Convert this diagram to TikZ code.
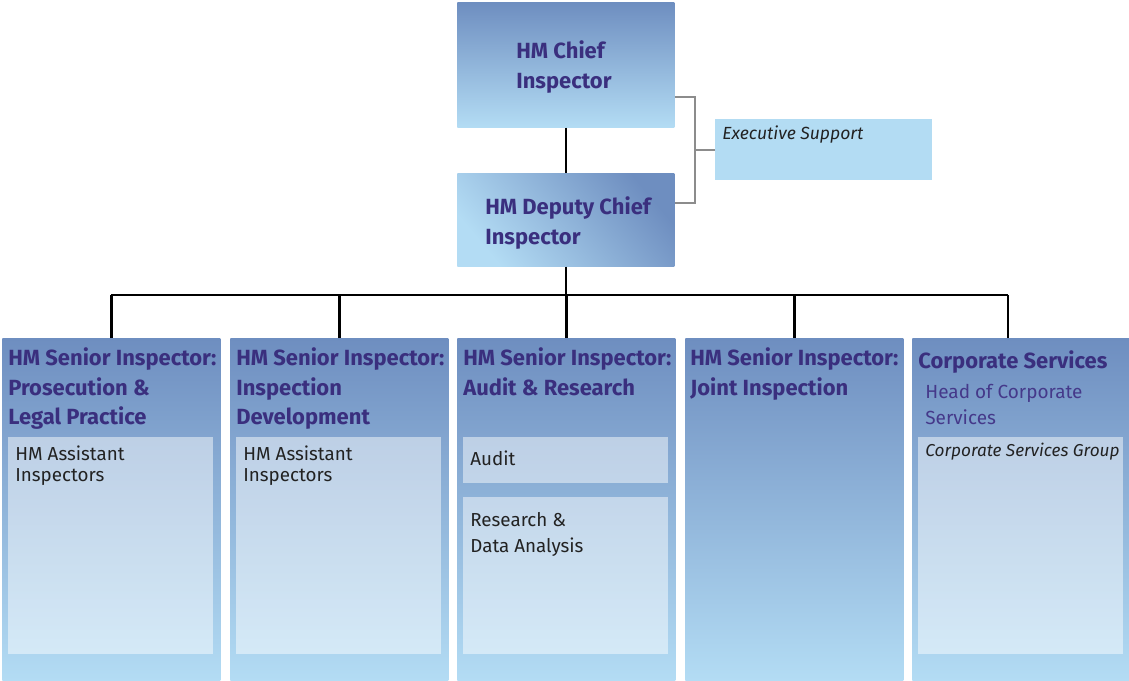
\documentclass[tikz,border=0pt]{standalone}
\usepackage{fontspec}
\setmainfont{Fira Sans}
\usetikzlibrary{positioning,calc}
\definecolor{boxdark}{HTML}{6E8EC0}
\definecolor{boxlight}{HTML}{B3DCF4}
\definecolor{titleblue}{HTML}{3A2F7E}
\definecolor{headblue}{HTML}{45398A}
\definecolor{execblue}{HTML}{B3DCF3}
\definecolor{linegray}{HTML}{8C8C8C}
\definecolor{bodytext}{HTML}{222222}

\begin{document}
\begin{tikzpicture}[x=0.02cm,y=-0.02cm,
  topbox/.style={anchor=north west,inner sep=0,minimum width=4.34cm,top color=boxdark,bottom color=boxlight},
  colbox/.style={anchor=north west,inner sep=0,minimum width=4.36cm,minimum height=6.84cm,top color=boxdark,bottom color=boxlight},
  subbox/.style={anchor=north west,inner sep=0,minimum width=4.1cm,fill=white,fill opacity=0.48},
  headtext/.style={anchor=north west,inner sep=0,align=left,text=titleblue,font=\fontsize{12.5}{17}\selectfont\bfseries},
  bodytxt/.style={anchor=north west,inner sep=0,align=left,text=bodytext,font=\fontsize{10.7}{12.5}\selectfont},
  orgline/.style={line width=1.4pt,black},
  bracket/.style={line width=1.1pt,linegray}]
  \useasboundingbox (0,0) rectangle (1129,680);

  % Top of the tree
  \node[topbox,minimum height=2.5cm] (chief) at (457,2) {};
  \node[topbox,minimum height=1.86cm,top color=boxdark,bottom color=boxlight,shading angle=-50] (deputy) at (457,173) {};
  \node[anchor=north west,inner sep=0,minimum width=4.34cm,minimum height=1.22cm,fill=execblue] (exec) at (715,119) {};

  \node[headtext] (chieftxt) at (516,40) {HM Chief\\Inspector};
  \node[headtext] (deputytxt) at (485,196) {HM Deputy Chief\\Inspector};
  \node[bodytxt,font=\fontsize{10}{12.5}\selectfont\itshape] (exectxt) at (722,125) {Executive Support};

  % Columns
  \node[colbox] (col1) at (2,338) {};
  \node[colbox] (col2) at (230,338) {};
  \node[colbox] (col3) at (457,338) {};
  \node[colbox] (col4) at (685,338) {};
  \node[colbox,minimum width=4.34cm] (col5) at (912,338) {};

  % Boxes inside the columns
  \node[subbox,minimum height=4.34cm] (assist1) at (8,437) {};
  \node[subbox,minimum height=4.34cm] (assist2) at (236,437) {};
  \node[subbox,minimum height=0.92cm] (audit) at (463,437) {};
  \node[subbox,minimum height=3.14cm] (research) at (463,497) {};
  \node[subbox,minimum height=4.34cm] (corpgroup) at (918,437) {};

  % Column headings
  \node[headtext] (title1) at (8,347) {HM Senior Inspector:\\Prosecution \&\\Legal Practice};
  \node[headtext] (title2) at (236,347) {HM Senior Inspector:\\Inspection\\Development};
  \node[headtext] (title3) at (463,347) {HM Senior Inspector:\\Audit \& Research};
  \node[headtext] (title4) at (690,347) {HM Senior Inspector:\\Joint Inspection};
  \node[headtext] (title5) at (918,350) {Corporate Services};
  \node[bodytxt,text=headblue,font=\fontsize{10.8}{14.7}\selectfont] (head5) at (925,384) {Head of Corporate\\Services};

  \node[bodytxt] (assisttxt1) at (15,445) {HM Assistant\\Inspectors};
  \node[bodytxt] (assisttxt2) at (243,445) {HM Assistant\\Inspectors};
  \node[bodytxt] (audittxt) at (470,450) {Audit};
  \node[bodytxt,font=\fontsize{10.7}{14.7}\selectfont] (researchtxt) at (470,512) {Research \&\\Data Analysis};
  \node[bodytxt,font=\fontsize{9.8}{12.5}\selectfont\itshape] (corptxt) at (925,443) {Corporate Services Group};

  % Connectors
  \draw[orgline] (chief.south) -- (deputy.north);
  \draw[orgline] (deputy.south) -- (deputy.south |- 0,295) coordinate (hub);
  \coordinate (drop5) at ([xshift=-0.26cm]col5.north);
  \draw[orgline] (col1.north |- hub) -- (drop5 |- hub);
  \foreach \c in {col1,col2,col3,col4}
    \draw[orgline] (\c.north) -- (\c.north |- hub);
  \draw[orgline] (drop5) -- (drop5 |- hub);

  % Link to executive support
  \draw[bracket] (exec.west) -- ++(-20,0) coordinate (brk);
  \draw[bracket] (chief.east |- 0,97) -| (brk) |- (deputy.east |- 0,203);
\end{tikzpicture}
\end{document}
